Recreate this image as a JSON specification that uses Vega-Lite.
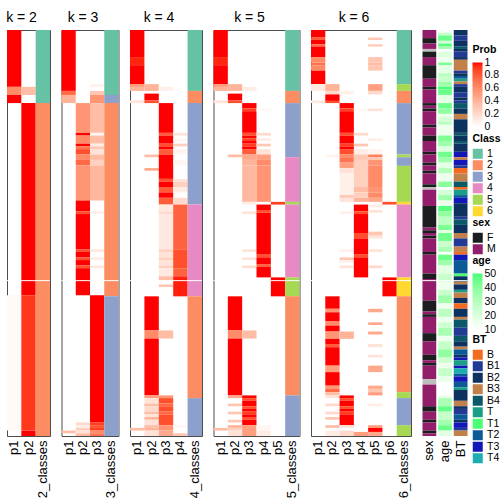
{
"$schema": "https://vega.github.io/schema/vega-lite/v6.json",
"padding": {"left": 5, "top": 10, "right": 0, "bottom": 0},
"background": "white",
"bounds": "flush",
"config": {
 "font": "Liberation Sans",
 "view": {"stroke": "#4d4d4d", "strokeWidth": 1},
 "axis": {"domain": false, "ticks": false, "grid": false, "labelFontSize": 13, "labelColor": "black", "labelAngle": -90, "labelPadding": 4, "labelOverlap": false, "labelBound": false, "title": null},
 "concat": {"spacing": 11.5},
 "title": {"fontSize": 14, "fontWeight": "normal", "color": "black", "anchor": "middle", "frame": "group", "offset": 5},
 "legend": {"titleFontSize": 10.5, "titleFontWeight": "bold", "labelFontSize": 10.5, "titleColor": "black", "labelColor": "black", "symbolType": "square", "symbolSize": 100, "symbolStrokeWidth": 0, "gradientThickness": 10, "gradientStrokeWidth": 0, "titlePadding": 4, "padding": 0, "rowPadding": 0.5, "labelOffset": 4, "labelOverlap": false}
},
"datasets": {
 "h": [
  {"k":2,"c":"p1","a":0,"b":21,"p":1},{"k":2,"c":"p1","a":21,"b":24,"p":0.6},{"k":2,"c":"p1","a":24,"b":27,"p":1},{"k":2,"c":"p1","a":98,"b":148,"p":0.03},
  {"k":2,"c":"p2","a":21,"b":24,"p":0.35},{"k":2,"c":"p2","a":27,"b":98,"p":1},{"k":2,"c":"p2","a":98,"b":148,"p":0.92},{"k":2,"c":"p2","a":148,"b":150,"p":1},

  {"k":3,"c":"p1","a":0,"b":22.5,"p":1},{"k":3,"c":"p1","a":22.5,"b":24,"p":0.75},{"k":3,"c":"p1","a":24,"b":27,"p":0.4},{"k":3,"c":"p1","a":148,"b":149,"p":0.35},
  {"k":3,"c":"p2","a":27,"b":38,"p":0.55},{"k":3,"c":"p2","a":38,"b":39,"p":1},{"k":3,"c":"p2","a":39,"b":42,"p":0.6},{"k":3,"c":"p2","a":42,"b":43,"p":1},{"k":3,"c":"p2","a":43,"b":44,"p":0.7},{"k":3,"c":"p2","a":44,"b":46,"p":0.85},{"k":3,"c":"p2","a":46,"b":48,"p":0.6},{"k":3,"c":"p2","a":48,"b":50,"p":0.75},{"k":3,"c":"p2","a":50,"b":63,"p":0.55},{"k":3,"c":"p2","a":63,"b":67,"p":1},{"k":3,"c":"p2","a":67,"b":68,"p":0.85},{"k":3,"c":"p2","a":68,"b":81,"p":1},{"k":3,"c":"p2","a":81,"b":82,"p":0.85},{"k":3,"c":"p2","a":82,"b":84,"p":1},{"k":3,"c":"p2","a":84,"b":85,"p":0.85},{"k":3,"c":"p2","a":85,"b":87,"p":1},{"k":3,"c":"p2","a":87,"b":88,"p":0.85},{"k":3,"c":"p2","a":88,"b":98,"p":1},{"k":3,"c":"p2","a":145,"b":146,"p":0.2},{"k":3,"c":"p2","a":146,"b":147,"p":0.1},{"k":3,"c":"p2","a":147,"b":148,"p":0.25},{"k":3,"c":"p2","a":148,"b":149,"p":0.15},{"k":3,"c":"p2","a":149,"b":150,"p":0.35},
  {"k":3,"c":"p3","a":20,"b":21,"p":0.08},{"k":3,"c":"p3","a":22.5,"b":24,"p":0.3},{"k":3,"c":"p3","a":24,"b":27,"p":0.55},{"k":3,"c":"p3","a":27,"b":38,"p":0.35},{"k":3,"c":"p3","a":38,"b":39,"p":0.05},{"k":3,"c":"p3","a":39,"b":42,"p":0.35},{"k":3,"c":"p3","a":42,"b":43,"p":0.1},{"k":3,"c":"p3","a":43,"b":44,"p":0.3},{"k":3,"c":"p3","a":44,"b":46,"p":0.15},{"k":3,"c":"p3","a":46,"b":48,"p":0.35},{"k":3,"c":"p3","a":48,"b":50,"p":0.25},{"k":3,"c":"p3","a":50,"b":63,"p":0.38},{"k":3,"c":"p3","a":67,"b":68,"p":0.08},{"k":3,"c":"p3","a":81,"b":82,"p":0.12},{"k":3,"c":"p3","a":84,"b":85,"p":0.1},{"k":3,"c":"p3","a":87,"b":88,"p":0.12},{"k":3,"c":"p3","a":98,"b":145,"p":1},{"k":3,"c":"p3","a":145,"b":146,"p":0.9},{"k":3,"c":"p3","a":146,"b":147,"p":0.85},{"k":3,"c":"p3","a":147,"b":148,"p":0.9},{"k":3,"c":"p3","a":148,"b":149,"p":0.6},{"k":3,"c":"p3","a":149,"b":150,"p":0.7},

  {"k":4,"c":"p1","a":0,"b":10,"p":1},{"k":4,"c":"p1","a":10,"b":13,"p":0.96},{"k":4,"c":"p1","a":13,"b":20,"p":1},{"k":4,"c":"p1","a":20,"b":21,"p":0.55},{"k":4,"c":"p1","a":21,"b":22.5,"p":0.4},{"k":4,"c":"p1","a":26,"b":27,"p":0.15},{"k":4,"c":"p1","a":147,"b":148,"p":0.35},
  {"k":4,"c":"p2","a":20,"b":22.5,"p":0.4},{"k":4,"c":"p2","a":23.5,"b":26,"p":1},{"k":4,"c":"p2","a":26,"b":27,"p":0.85},{"k":4,"c":"p2","a":46,"b":47,"p":0.35},{"k":4,"c":"p2","a":51,"b":52,"p":0.45},{"k":4,"c":"p2","a":98.4,"b":111,"p":1},{"k":4,"c":"p2","a":111,"b":114,"p":0.6},{"k":4,"c":"p2","a":114,"b":135,"p":1},{"k":4,"c":"p2","a":135,"b":136,"p":0.5},{"k":4,"c":"p2","a":136,"b":138,"p":0.15},{"k":4,"c":"p2","a":138,"b":139,"p":0.35},{"k":4,"c":"p2","a":139,"b":141,"p":0.2},{"k":4,"c":"p2","a":141,"b":142,"p":0.35},{"k":4,"c":"p2","a":142,"b":143,"p":0.15},{"k":4,"c":"p2","a":143,"b":144,"p":0.4},{"k":4,"c":"p2","a":144,"b":146,"p":0.15},{"k":4,"c":"p2","a":146,"b":147,"p":0.35},{"k":4,"c":"p2","a":147,"b":148,"p":0.4},{"k":4,"c":"p2","a":148,"b":150,"p":0.15},
  {"k":4,"c":"p3","a":21,"b":22.5,"p":0.08},{"k":4,"c":"p3","a":27,"b":38,"p":1},{"k":4,"c":"p3","a":38,"b":39,"p":0.8},{"k":4,"c":"p3","a":39,"b":42,"p":1},{"k":4,"c":"p3","a":42,"b":43,"p":0.85},{"k":4,"c":"p3","a":43,"b":44,"p":1},{"k":4,"c":"p3","a":44,"b":46,"p":0.8},{"k":4,"c":"p3","a":46,"b":55,"p":1},{"k":4,"c":"p3","a":55,"b":56,"p":0.85},{"k":4,"c":"p3","a":56,"b":58,"p":1},{"k":4,"c":"p3","a":58,"b":60,"p":0.8},{"k":4,"c":"p3","a":60,"b":62,"p":1},{"k":4,"c":"p3","a":62,"b":64.5,"p":0.8},{"k":4,"c":"p3","a":64.5,"b":67,"p":0.12},{"k":4,"c":"p3","a":67,"b":68,"p":0.2},{"k":4,"c":"p3","a":68,"b":81,"p":0.12},{"k":4,"c":"p3","a":81,"b":82,"p":0.25},{"k":4,"c":"p3","a":82,"b":84,"p":0.15},{"k":4,"c":"p3","a":84,"b":85,"p":0.25},{"k":4,"c":"p3","a":85,"b":87,"p":0.15},{"k":4,"c":"p3","a":87,"b":88,"p":0.25},{"k":4,"c":"p3","a":88,"b":91,"p":0.12},{"k":4,"c":"p3","a":91,"b":92.5,"p":0.35},{"k":4,"c":"p3","a":94,"b":95,"p":0.3},{"k":4,"c":"p3","a":111,"b":114,"p":0.35},{"k":4,"c":"p3","a":135,"b":136,"p":0.55},{"k":4,"c":"p3","a":136,"b":138,"p":0.85},{"k":4,"c":"p3","a":138,"b":139,"p":0.75},{"k":4,"c":"p3","a":139,"b":141,"p":0.85},{"k":4,"c":"p3","a":141,"b":142,"p":0.75},{"k":4,"c":"p3","a":142,"b":146,"p":0.85},{"k":4,"c":"p3","a":146,"b":148,"p":0.55},{"k":4,"c":"p3","a":148,"b":150,"p":0.45},
  {"k":4,"c":"p4","a":38,"b":39,"p":0.15},{"k":4,"c":"p4","a":40,"b":41,"p":0.05},{"k":4,"c":"p4","a":42,"b":43,"p":0.25},{"k":4,"c":"p4","a":44,"b":46,"p":0.06},{"k":4,"c":"p4","a":48,"b":50,"p":0.05},{"k":4,"c":"p4","a":55,"b":56,"p":0.15},{"k":4,"c":"p4","a":56,"b":58,"p":0.25},{"k":4,"c":"p4","a":58,"b":60,"p":0.1},{"k":4,"c":"p4","a":62,"b":64.5,"p":0.2},{"k":4,"c":"p4","a":64.5,"b":81,"p":0.78},{"k":4,"c":"p4","a":81,"b":88,"p":0.85},{"k":4,"c":"p4","a":88,"b":91,"p":0.78},{"k":4,"c":"p4","a":91,"b":98.4,"p":0.97},{"k":4,"c":"p4","a":146,"b":147,"p":0.05},{"k":4,"c":"p4","a":149,"b":150,"p":0.3},

  {"k":5,"c":"p1","a":0,"b":10,"p":1},{"k":5,"c":"p1","a":10,"b":13,"p":0.96},{"k":5,"c":"p1","a":13,"b":20,"p":1},{"k":5,"c":"p1","a":20,"b":21,"p":0.55},{"k":5,"c":"p1","a":21,"b":22.5,"p":0.4},{"k":5,"c":"p1","a":26,"b":27,"p":0.15},{"k":5,"c":"p1","a":147,"b":148,"p":0.35},
  {"k":5,"c":"p2","a":20,"b":22.5,"p":0.4},{"k":5,"c":"p2","a":23.5,"b":26,"p":1},{"k":5,"c":"p2","a":26,"b":27,"p":0.85},{"k":5,"c":"p2","a":46,"b":47,"p":0.35},{"k":5,"c":"p2","a":98.4,"b":111,"p":1},{"k":5,"c":"p2","a":111,"b":114,"p":0.6},{"k":5,"c":"p2","a":114,"b":135,"p":1},{"k":5,"c":"p2","a":135,"b":136,"p":0.45},{"k":5,"c":"p2","a":138,"b":139,"p":0.3},{"k":5,"c":"p2","a":141,"b":142,"p":0.3},{"k":5,"c":"p2","a":144,"b":145,"p":0.3},{"k":5,"c":"p2","a":146,"b":147,"p":0.4},{"k":5,"c":"p2","a":147,"b":148,"p":0.25},{"k":5,"c":"p2","a":148,"b":150,"p":0.15},
  {"k":5,"c":"p3","a":21,"b":22.5,"p":0.1},{"k":5,"c":"p3","a":27,"b":29,"p":1},{"k":5,"c":"p3","a":29,"b":30,"p":0.9},{"k":5,"c":"p3","a":30,"b":38,"p":1},{"k":5,"c":"p3","a":38,"b":39,"p":0.85},{"k":5,"c":"p3","a":39,"b":40,"p":1},{"k":5,"c":"p3","a":40,"b":41,"p":0.9},{"k":5,"c":"p3","a":41,"b":42,"p":1},{"k":5,"c":"p3","a":42,"b":43,"p":0.9},{"k":5,"c":"p3","a":43,"b":44,"p":1},{"k":5,"c":"p3","a":44,"b":46,"p":0.8},{"k":5,"c":"p3","a":46,"b":48,"p":0.45},{"k":5,"c":"p3","a":48,"b":50,"p":0.4},{"k":5,"c":"p3","a":50,"b":63.5,"p":0.37},{"k":5,"c":"p3","a":63.5,"b":64.5,"p":0.1},{"k":5,"c":"p3","a":67,"b":68,"p":0.15},{"k":5,"c":"p3","a":81,"b":82,"p":0.15},{"k":5,"c":"p3","a":84,"b":85,"p":0.15},{"k":5,"c":"p3","a":87,"b":88,"p":0.18},{"k":5,"c":"p3","a":111,"b":114,"p":0.35},{"k":5,"c":"p3","a":135,"b":136,"p":1},{"k":5,"c":"p3","a":136,"b":137,"p":0.85},{"k":5,"c":"p3","a":137,"b":139,"p":1},{"k":5,"c":"p3","a":139,"b":140,"p":0.85},{"k":5,"c":"p3","a":140,"b":141,"p":1},{"k":5,"c":"p3","a":141,"b":142,"p":0.9},{"k":5,"c":"p3","a":142,"b":143,"p":1},{"k":5,"c":"p3","a":143,"b":144,"p":0.85},{"k":5,"c":"p3","a":144,"b":146,"p":1},{"k":5,"c":"p3","a":146,"b":150,"p":0.5},
  {"k":5,"c":"p4","a":29,"b":30,"p":0.04},{"k":5,"c":"p4","a":38,"b":39,"p":0.2},{"k":5,"c":"p4","a":40,"b":41,"p":0.1},{"k":5,"c":"p4","a":42,"b":43,"p":0.3},{"k":5,"c":"p4","a":44,"b":46,"p":0.15},{"k":5,"c":"p4","a":46,"b":48,"p":0.5},{"k":5,"c":"p4","a":48,"b":50,"p":0.6},{"k":5,"c":"p4","a":50,"b":63.5,"p":0.55},{"k":5,"c":"p4","a":64.5,"b":66.5,"p":1},{"k":5,"c":"p4","a":66.5,"b":67.5,"p":0.85},{"k":5,"c":"p4","a":67.5,"b":83,"p":1},{"k":5,"c":"p4","a":83,"b":84,"p":0.85},{"k":5,"c":"p4","a":84,"b":86.5,"p":1},{"k":5,"c":"p4","a":86.5,"b":87.5,"p":0.8},{"k":5,"c":"p4","a":87.5,"b":91.4,"p":1},{"k":5,"c":"p4","a":146,"b":148,"p":0.05},{"k":5,"c":"p4","a":148,"b":150,"p":0.1},
  {"k":5,"c":"p5","a":63.5,"b":64.5,"p":0.9},{"k":5,"c":"p5","a":91.4,"b":98.4,"p":1},

  {"k":6,"c":"p1","a":0,"b":2.8,"p":1},{"k":6,"c":"p1","a":2.8,"b":3.7,"p":0.8},{"k":6,"c":"p1","a":3.7,"b":5.3,"p":1},{"k":6,"c":"p1","a":5.3,"b":6.1,"p":0.75},{"k":6,"c":"p1","a":6.1,"b":10,"p":1},{"k":6,"c":"p1","a":10,"b":12,"p":0.6},{"k":6,"c":"p1","a":12,"b":13,"p":0.7},{"k":6,"c":"p1","a":13,"b":15,"p":0.6},{"k":6,"c":"p1","a":15,"b":20,"p":1},{"k":6,"c":"p1","a":20,"b":22.5,"p":0.12},{"k":6,"c":"p1","a":26,"b":27,"p":0.12},
  {"k":6,"c":"p2","a":20,"b":22.5,"p":0.4},{"k":6,"c":"p2","a":22.5,"b":23.8,"p":0.2},{"k":6,"c":"p2","a":23.8,"b":26.2,"p":1},{"k":6,"c":"p2","a":26.2,"b":27,"p":0.85},{"k":6,"c":"p2","a":46,"b":47,"p":0.06},{"k":6,"c":"p2","a":98.4,"b":103,"p":1},{"k":6,"c":"p2","a":103,"b":104.3,"p":0.55},{"k":6,"c":"p2","a":104.3,"b":107.7,"p":1},{"k":6,"c":"p2","a":107.7,"b":109.2,"p":0.6},{"k":6,"c":"p2","a":109.2,"b":111.4,"p":1},{"k":6,"c":"p2","a":111.4,"b":114.1,"p":0.55},{"k":6,"c":"p2","a":114.1,"b":116,"p":1},{"k":6,"c":"p2","a":116,"b":117.2,"p":0.8},{"k":6,"c":"p2","a":117.2,"b":124,"p":1},{"k":6,"c":"p2","a":124,"b":126.4,"p":0.5},{"k":6,"c":"p2","a":126.4,"b":131.4,"p":1},{"k":6,"c":"p2","a":131.4,"b":132.6,"p":0.55},{"k":6,"c":"p2","a":132.6,"b":133.8,"p":0.75},{"k":6,"c":"p2","a":133.8,"b":135,"p":0.35},{"k":6,"c":"p2","a":135,"b":136,"p":0.15},{"k":6,"c":"p2","a":138,"b":139,"p":0.2},{"k":6,"c":"p2","a":141,"b":142,"p":0.2},{"k":6,"c":"p2","a":143,"b":144,"p":0.3},{"k":6,"c":"p2","a":146,"b":147,"p":0.35},{"k":6,"c":"p2","a":148,"b":150,"p":0.1},
  {"k":6,"c":"p3","a":22.5,"b":23.8,"p":0.08},{"k":6,"c":"p3","a":27,"b":29,"p":1},{"k":6,"c":"p3","a":29,"b":30,"p":0.9},{"k":6,"c":"p3","a":30,"b":38,"p":1},{"k":6,"c":"p3","a":38,"b":39,"p":0.85},{"k":6,"c":"p3","a":39,"b":42,"p":1},{"k":6,"c":"p3","a":42,"b":43,"p":0.9},{"k":6,"c":"p3","a":43,"b":44,"p":1},{"k":6,"c":"p3","a":44,"b":46,"p":0.85},{"k":6,"c":"p3","a":46,"b":47,"p":0.6},{"k":6,"c":"p3","a":47,"b":49,"p":0.7},{"k":6,"c":"p3","a":49,"b":51,"p":0.5},{"k":6,"c":"p3","a":51,"b":53,"p":0.15},{"k":6,"c":"p3","a":53,"b":61,"p":0.08},{"k":6,"c":"p3","a":61,"b":62,"p":0.3},{"k":6,"c":"p3","a":62,"b":63.5,"p":0.15},{"k":6,"c":"p3","a":67,"b":68,"p":0.08},{"k":6,"c":"p3","a":81,"b":82,"p":0.08},{"k":6,"c":"p3","a":84,"b":85,"p":0.3},{"k":6,"c":"p3","a":85,"b":86,"p":0.08},{"k":6,"c":"p3","a":87,"b":88,"p":0.15},{"k":6,"c":"p3","a":111.4,"b":114.1,"p":0.4},{"k":6,"c":"p3","a":135,"b":136,"p":1},{"k":6,"c":"p3","a":136,"b":137,"p":0.85},{"k":6,"c":"p3","a":137,"b":139,"p":1},{"k":6,"c":"p3","a":139,"b":140,"p":0.85},{"k":6,"c":"p3","a":140,"b":141,"p":1},{"k":6,"c":"p3","a":141,"b":142,"p":0.9},{"k":6,"c":"p3","a":142,"b":146,"p":1},{"k":6,"c":"p3","a":146,"b":147,"p":0.15},{"k":6,"c":"p3","a":148,"b":150,"p":0.2},
  {"k":6,"c":"p4","a":29,"b":30,"p":0.04},{"k":6,"c":"p4","a":38,"b":39,"p":0.2},{"k":6,"c":"p4","a":42,"b":43,"p":0.3},{"k":6,"c":"p4","a":44,"b":46,"p":0.1},{"k":6,"c":"p4","a":46,"b":48,"p":0.3},{"k":6,"c":"p4","a":48,"b":58,"p":0.25},{"k":6,"c":"p4","a":58,"b":60,"p":0.35},{"k":6,"c":"p4","a":60,"b":62,"p":0.25},{"k":6,"c":"p4","a":62,"b":63.5,"p":0.4},{"k":6,"c":"p4","a":64.5,"b":67,"p":1},{"k":6,"c":"p4","a":67,"b":68,"p":0.85},{"k":6,"c":"p4","a":68,"b":75,"p":1},{"k":6,"c":"p4","a":75,"b":77,"p":0.85},{"k":6,"c":"p4","a":77,"b":83,"p":1},{"k":6,"c":"p4","a":83,"b":84,"p":0.85},{"k":6,"c":"p4","a":84,"b":91.4,"p":1},{"k":6,"c":"p4","a":148.5,"b":150,"p":0.5},
  {"k":6,"c":"p5","a":2.8,"b":3.7,"p":0.3},{"k":6,"c":"p5","a":5.3,"b":6.1,"p":0.3},{"k":6,"c":"p5","a":10,"b":12,"p":0.3},{"k":6,"c":"p5","a":12,"b":13,"p":0.35},{"k":6,"c":"p5","a":13,"b":15,"p":0.3},{"k":6,"c":"p5","a":20,"b":22.5,"p":0.5},{"k":6,"c":"p5","a":22.5,"b":23.8,"p":0.2},{"k":6,"c":"p5","a":29,"b":30,"p":0.15},{"k":6,"c":"p5","a":40,"b":41,"p":0.1},{"k":6,"c":"p5","a":44,"b":46,"p":0.06},{"k":6,"c":"p5","a":46,"b":47,"p":0.65},{"k":6,"c":"p5","a":47,"b":48,"p":0.3},{"k":6,"c":"p5","a":48,"b":50,"p":0.55},{"k":6,"c":"p5","a":50,"b":58,"p":0.6},{"k":6,"c":"p5","a":58,"b":60,"p":0.55},{"k":6,"c":"p5","a":60,"b":62,"p":0.6},{"k":6,"c":"p5","a":62,"b":63.5,"p":0.45},{"k":6,"c":"p5","a":64.5,"b":65.5,"p":0.1},{"k":6,"c":"p5","a":66.5,"b":67.5,"p":0.15},{"k":6,"c":"p5","a":74.5,"b":76,"p":0.3},{"k":6,"c":"p5","a":76,"b":77,"p":0.15},{"k":6,"c":"p5","a":81,"b":82,"p":0.15},{"k":6,"c":"p5","a":87,"b":88,"p":0.2},{"k":6,"c":"p5","a":103,"b":104.3,"p":0.45},{"k":6,"c":"p5","a":108,"b":109,"p":0.45},{"k":6,"c":"p5","a":111.4,"b":112.5,"p":0.45},{"k":6,"c":"p5","a":116,"b":117.2,"p":0.15},{"k":6,"c":"p5","a":120,"b":121,"p":0.15},{"k":6,"c":"p5","a":124,"b":126.4,"p":0.45},{"k":6,"c":"p5","a":131.4,"b":132.6,"p":0.45},{"k":6,"c":"p5","a":132.6,"b":133.8,"p":0.3},{"k":6,"c":"p5","a":133.8,"b":135,"p":0.5},{"k":6,"c":"p5","a":138,"b":139,"p":0.1},{"k":6,"c":"p5","a":146,"b":147,"p":0.5},{"k":6,"c":"p5","a":147,"b":148.5,"p":1},{"k":6,"c":"p5","a":148.5,"b":150,"p":0.45},
  {"k":6,"c":"p6","a":63.5,"b":64.5,"p":0.85},{"k":6,"c":"p6","a":91.4,"b":98.4,"p":1}
 ],
 "cl": [
  {"k":2,"c":"2_classes","a":0,"b":27,"v":1},{"k":2,"c":"2_classes","a":27,"b":150,"v":2},
  {"k":3,"c":"3_classes","a":0,"b":24,"v":1},{"k":3,"c":"3_classes","a":24,"b":27,"v":3},{"k":3,"c":"3_classes","a":27,"b":98.4,"v":2},{"k":3,"c":"3_classes","a":98.4,"b":150,"v":3},
  {"k":4,"c":"4_classes","a":0,"b":22.5,"v":1},{"k":4,"c":"4_classes","a":22.5,"b":27,"v":2},{"k":4,"c":"4_classes","a":27,"b":64.5,"v":3},{"k":4,"c":"4_classes","a":64.5,"b":98.4,"v":4},{"k":4,"c":"4_classes","a":98.4,"b":136,"v":2},{"k":4,"c":"4_classes","a":136,"b":150,"v":3},
  {"k":5,"c":"5_classes","a":0,"b":22.5,"v":1},{"k":5,"c":"5_classes","a":22.5,"b":27,"v":2},{"k":5,"c":"5_classes","a":27,"b":47,"v":3},{"k":5,"c":"5_classes","a":47,"b":63.5,"v":4},{"k":5,"c":"5_classes","a":63.5,"b":64.5,"v":5},{"k":5,"c":"5_classes","a":64.5,"b":91.4,"v":4},{"k":5,"c":"5_classes","a":91.4,"b":98.4,"v":5},{"k":5,"c":"5_classes","a":98.4,"b":135,"v":2},{"k":5,"c":"5_classes","a":135,"b":150,"v":3},
  {"k":6,"c":"6_classes","a":0,"b":20,"v":1},{"k":6,"c":"6_classes","a":20,"b":22.5,"v":5},{"k":6,"c":"6_classes","a":22.5,"b":27,"v":2},{"k":6,"c":"6_classes","a":27,"b":46,"v":3},{"k":6,"c":"6_classes","a":46,"b":47,"v":5},{"k":6,"c":"6_classes","a":47,"b":50.2,"v":3},{"k":6,"c":"6_classes","a":50.2,"b":63.5,"v":5},{"k":6,"c":"6_classes","a":63.5,"b":64.5,"v":6},{"k":6,"c":"6_classes","a":64.5,"b":91.4,"v":4},{"k":6,"c":"6_classes","a":91.4,"b":98.4,"v":6},{"k":6,"c":"6_classes","a":98.4,"b":133.8,"v":2},{"k":6,"c":"6_classes","a":133.8,"b":136,"v":5},{"k":6,"c":"6_classes","a":136,"b":146,"v":3},{"k":6,"c":"6_classes","a":146,"b":150,"v":5}
 ],
 "gap": [{"y": 92.6}],
 "sex": [
  {"a":0,"b":3,"v":"M"},{"a":3,"b":5,"v":"F"},{"a":5,"b":7,"v":"M"},{"a":7,"b":8,"v":"NA"},{"a":8,"b":10,"v":"F"},{"a":10,"b":13,"v":"M"},{"a":13,"b":18,"v":"F"},{"a":18,"b":21,"v":"M"},{"a":21,"b":22,"v":"F"},{"a":22,"b":27,"v":"M"},{"a":27,"b":28,"v":"F"},{"a":28,"b":29,"v":"M"},{"a":29,"b":30,"v":"F"},{"a":30,"b":35,"v":"M"},{"a":35,"b":36,"v":"F"},{"a":36,"b":39,"v":"M"},{"a":39,"b":41,"v":"F"},{"a":41,"b":45,"v":"M"},{"a":45,"b":46,"v":"F"},{"a":46,"b":49,"v":"M"},{"a":49,"b":50,"v":"F"},{"a":50,"b":52,"v":"M"},{"a":52,"b":53,"v":"F"},{"a":53,"b":57,"v":"M"},{"a":57,"b":58,"v":"F"},{"a":58,"b":59,"v":"NA"},{"a":59,"b":65,"v":"M"},{"a":65,"b":73,"v":"F"},{"a":73,"b":74,"v":"M"},{"a":74,"b":75,"v":"F"},{"a":75,"b":76,"v":"M"},{"a":76,"b":77,"v":"F"},{"a":77,"b":82,"v":"M"},{"a":82,"b":83,"v":"F"},{"a":83,"b":90,"v":"M"},{"a":90,"b":92,"v":"F"},{"a":92,"b":100,"v":"M"},{"a":100,"b":104,"v":"F"},{"a":104,"b":105,"v":"M"},{"a":105,"b":106,"v":"F"},{"a":106,"b":112,"v":"M"},{"a":112,"b":115,"v":"F"},{"a":115,"b":120,"v":"M"},{"a":120,"b":122,"v":"F"},{"a":122,"b":123,"v":"M"},{"a":123,"b":124,"v":"F"},{"a":124,"b":129,"v":"M"},{"a":129,"b":131,"v":"NA"},{"a":131,"b":139,"v":"M"},{"a":139,"b":141,"v":"F"},{"a":141,"b":144,"v":"M"},{"a":144,"b":145,"v":"F"},{"a":145,"b":148,"v":"M"},{"a":148,"b":149,"v":"F"},{"a":149,"b":150,"v":"M"}
 ],
 "age": [
  {"a":0,"b":1,"v":12},{"a":1,"b":2,"v":25},{"a":2,"b":4,"v":45},{"a":4,"b":5,"v":22},{"a":5,"b":6,"v":48},{"a":6,"b":7,"v":35},{"a":7,"b":8,"v":null},{"a":8,"b":10,"v":20},{"a":10,"b":12,"v":15},{"a":12,"b":13,"v":42},{"a":13,"b":16,"v":18},{"a":16,"b":17,"v":30},{"a":17,"b":19,"v":25},{"a":19,"b":21,"v":35},{"a":21,"b":22,"v":50},{"a":22,"b":24,"v":45},{"a":24,"b":27,"v":18},{"a":27,"b":29,"v":45},{"a":29,"b":31,"v":38},{"a":31,"b":32,"v":15},{"a":32,"b":34,"v":22},{"a":34,"b":35,"v":30},{"a":35,"b":39,"v":15},{"a":39,"b":41,"v":42},{"a":41,"b":43,"v":35},{"a":43,"b":45,"v":20},{"a":45,"b":47,"v":44},{"a":47,"b":49,"v":35},{"a":49,"b":51,"v":18},{"a":51,"b":53,"v":30},{"a":53,"b":56,"v":15},{"a":56,"b":58,"v":40},{"a":58,"b":59,"v":null},{"a":59,"b":61,"v":22},{"a":61,"b":63,"v":35},{"a":63,"b":65,"v":15},{"a":65,"b":67,"v":48},{"a":67,"b":69,"v":38},{"a":69,"b":72,"v":28},{"a":72,"b":74,"v":42},{"a":74,"b":75,"v":18},{"a":75,"b":78,"v":44},{"a":78,"b":80,"v":25},{"a":80,"b":82,"v":32},{"a":82,"b":83,"v":null},{"a":83,"b":85,"v":45},{"a":85,"b":87,"v":35},{"a":87,"b":90,"v":18},{"a":90,"b":93,"v":25},{"a":93,"b":96,"v":15},{"a":96,"b":98,"v":25},{"a":98,"b":101,"v":35},{"a":101,"b":103,"v":15},{"a":103,"b":106,"v":28},{"a":106,"b":108,"v":15},{"a":108,"b":110,"v":24},{"a":110,"b":113,"v":33},{"a":113,"b":115,"v":15},{"a":115,"b":118,"v":26},{"a":118,"b":121,"v":38},{"a":121,"b":123,"v":24},{"a":123,"b":125,"v":15},{"a":125,"b":128,"v":26},{"a":128,"b":130,"v":16},{"a":130,"b":133,"v":null},{"a":133,"b":135,"v":10},{"a":135,"b":136,"v":17},{"a":136,"b":139,"v":32},{"a":139,"b":141,"v":46},{"a":141,"b":144,"v":26},{"a":144,"b":146,"v":34},{"a":146,"b":148,"v":45},{"a":148,"b":150,"v":18}
 ],
 "bt": [
  {"a":0,"b":2,"v":"B2"},{"a":2,"b":4,"v":"B1"},{"a":4,"b":6,"v":"B2"},{"a":6,"b":7,"v":"B4"},{"a":7,"b":8,"v":"B2"},{"a":8,"b":10,"v":"B1"},{"a":10,"b":11,"v":"B2"},{"a":11,"b":15,"v":"B3"},{"a":15,"b":16,"v":"B1"},{"a":16,"b":17,"v":"B2"},{"a":17,"b":18,"v":"T2"},{"a":18,"b":19,"v":"T"},{"a":19,"b":20,"v":"B3"},{"a":20,"b":21,"v":"B1"},{"a":21,"b":23,"v":"B2"},{"a":23,"b":25,"v":"B1"},{"a":25,"b":26,"v":"B2"},{"a":26,"b":27,"v":"B1"},{"a":27,"b":29,"v":"B4"},{"a":29,"b":31,"v":"B2"},{"a":31,"b":33,"v":"B3"},{"a":33,"b":38,"v":"B2"},{"a":38,"b":39,"v":"B4"},{"a":39,"b":41,"v":"B2"},{"a":41,"b":42,"v":"B4"},{"a":42,"b":45,"v":"B2"},{"a":45,"b":47,"v":"T3"},{"a":47,"b":48,"v":"B3"},{"a":48,"b":50,"v":"T3"},{"a":50,"b":51,"v":"B1"},{"a":51,"b":53,"v":"B"},{"a":53,"b":56,"v":"B3"},{"a":56,"b":58,"v":"B4"},{"a":58,"b":59,"v":"B"},{"a":59,"b":61,"v":"T"},{"a":61,"b":62,"v":"T2"},{"a":62,"b":64,"v":"T3"},{"a":64,"b":69,"v":"B2"},{"a":69,"b":70,"v":"B1"},{"a":70,"b":72,"v":"B4"},{"a":72,"b":75,"v":"B2"},{"a":75,"b":77,"v":"B3"},{"a":77,"b":80,"v":"B1"},{"a":80,"b":82,"v":"B3"},{"a":82,"b":83,"v":"B"},{"a":83,"b":85,"v":"T3"},{"a":85,"b":90,"v":"T2"},{"a":90,"b":91,"v":"T1"},{"a":91,"b":93,"v":"B2"},{"a":93,"b":94,"v":"B3"},{"a":94,"b":96,"v":"B2"},{"a":96,"b":97,"v":"T"},{"a":97,"b":99,"v":"B3"},{"a":99,"b":101,"v":"B2"},{"a":101,"b":103,"v":"B"},{"a":103,"b":106,"v":"B2"},{"a":106,"b":107,"v":"B3"},{"a":107,"b":110,"v":"B4"},{"a":110,"b":113,"v":"B1"},{"a":113,"b":115,"v":"B4"},{"a":115,"b":117,"v":"B2"},{"a":117,"b":118,"v":"B3"},{"a":118,"b":120,"v":"T2"},{"a":120,"b":121,"v":"B2"},{"a":121,"b":122,"v":"T3"},{"a":122,"b":124,"v":"T"},{"a":124,"b":125,"v":"T3"},{"a":125,"b":127,"v":"T4"},{"a":127,"b":128,"v":"T2"},{"a":128,"b":130,"v":"T3"},{"a":130,"b":132,"v":"T2"},{"a":132,"b":133,"v":"T"},{"a":133,"b":137,"v":"B2"},{"a":137,"b":139,"v":"B3"},{"a":139,"b":140,"v":"B2"},{"a":140,"b":142,"v":"B1"},{"a":142,"b":144,"v":"T2"},{"a":144,"b":145,"v":"B2"},{"a":145,"b":147,"v":"T3"},{"a":147,"b":148,"v":"B1"},{"a":148,"b":150,"v":"B3"}
 ]
},
"hconcat": [
 {"width": 43, "height": 406, "title": {"text": "k = 2", "dx": -7},
  "layer": [
   {"data": {"name": "h"}, "transform": [{"filter": "datum.k == 2"}], "mark": "rect",
    "encoding": {"x": {"field": "c", "type": "nominal", "sort": null, "scale": {"domain": ["p1","p2","2_classes"], "paddingInner": 0, "paddingOuter": 0}},
     "y": {"field": "a", "type": "quantitative", "scale": {"domain": [0,150], "reverse": true, "nice": false, "zero": false}, "axis": null}, "y2": {"field": "b"},
     "color": {"field": "p", "type": "quantitative", "scale": {"domain": [0,1], "range": ["#ffffff","#ff0000"], "interpolate": "lab"}, "legend": null}}},
   {"data": {"name": "cl"}, "transform": [{"filter": "datum.k == 2"}], "mark": "rect",
    "encoding": {"x": {"field": "c", "type": "nominal"}, "y": {"field": "a", "type": "quantitative"}, "y2": {"field": "b"},
     "color": {"field": "v", "type": "nominal", "scale": {"domain": [1,2,3,4,5,6], "range": ["#66C2A5","#FC8D62","#8DA0CB","#E78AC3","#A6D854","#FFD92F"]}, "legend": null}}},
   {"data": {"name": "gap"}, "mark": {"type": "rule", "color": "white", "strokeWidth": 1}, "encoding": {"y": {"field": "y", "type": "quantitative"}}}
  ], "resolve": {"scale": {"color": "independent"}}},
 {"width": 57, "height": 406, "title": {"text": "k = 3", "dx": -7},
  "layer": [
   {"data": {"name": "h"}, "transform": [{"filter": "datum.k == 3"}], "mark": "rect",
    "encoding": {"x": {"field": "c", "type": "nominal", "sort": null, "scale": {"domain": ["p1","p2","p3","3_classes"], "paddingInner": 0, "paddingOuter": 0}},
     "y": {"field": "a", "type": "quantitative", "scale": {"domain": [0,150], "reverse": true, "nice": false, "zero": false}, "axis": null}, "y2": {"field": "b"},
     "color": {"field": "p", "type": "quantitative", "scale": {"domain": [0,1], "range": ["#ffffff","#ff0000"], "interpolate": "lab"}, "legend": null}}},
   {"data": {"name": "cl"}, "transform": [{"filter": "datum.k == 3"}], "mark": "rect",
    "encoding": {"x": {"field": "c", "type": "nominal"}, "y": {"field": "a", "type": "quantitative"}, "y2": {"field": "b"},
     "color": {"field": "v", "type": "nominal", "scale": {"domain": [1,2,3,4,5,6], "range": ["#66C2A5","#FC8D62","#8DA0CB","#E78AC3","#A6D854","#FFD92F"]}, "legend": null}}},
   {"data": {"name": "gap"}, "mark": {"type": "rule", "color": "white", "strokeWidth": 1}, "encoding": {"y": {"field": "y", "type": "quantitative"}}}
  ], "resolve": {"scale": {"color": "independent"}}},
 {"width": 72, "height": 406, "title": {"text": "k = 4", "dx": -7},
  "layer": [
   {"data": {"name": "h"}, "transform": [{"filter": "datum.k == 4"}], "mark": "rect",
    "encoding": {"x": {"field": "c", "type": "nominal", "sort": null, "scale": {"domain": ["p1","p2","p3","p4","4_classes"], "paddingInner": 0, "paddingOuter": 0}},
     "y": {"field": "a", "type": "quantitative", "scale": {"domain": [0,150], "reverse": true, "nice": false, "zero": false}, "axis": null}, "y2": {"field": "b"},
     "color": {"field": "p", "type": "quantitative", "scale": {"domain": [0,1], "range": ["#ffffff","#ff0000"], "interpolate": "lab"}, "legend": null}}},
   {"data": {"name": "cl"}, "transform": [{"filter": "datum.k == 4"}], "mark": "rect",
    "encoding": {"x": {"field": "c", "type": "nominal"}, "y": {"field": "a", "type": "quantitative"}, "y2": {"field": "b"},
     "color": {"field": "v", "type": "nominal", "scale": {"domain": [1,2,3,4,5,6], "range": ["#66C2A5","#FC8D62","#8DA0CB","#E78AC3","#A6D854","#FFD92F"]}, "legend": null}}},
   {"data": {"name": "gap"}, "mark": {"type": "rule", "color": "white", "strokeWidth": 1}, "encoding": {"y": {"field": "y", "type": "quantitative"}}}
  ], "resolve": {"scale": {"color": "independent"}}},
 {"width": 86, "height": 406, "title": {"text": "k = 5", "dx": -7},
  "layer": [
   {"data": {"name": "h"}, "transform": [{"filter": "datum.k == 5"}], "mark": "rect",
    "encoding": {"x": {"field": "c", "type": "nominal", "sort": null, "scale": {"domain": ["p1","p2","p3","p4","p5","5_classes"], "paddingInner": 0, "paddingOuter": 0}},
     "y": {"field": "a", "type": "quantitative", "scale": {"domain": [0,150], "reverse": true, "nice": false, "zero": false}, "axis": null}, "y2": {"field": "b"},
     "color": {"field": "p", "type": "quantitative", "scale": {"domain": [0,1], "range": ["#ffffff","#ff0000"], "interpolate": "lab"}, "legend": null}}},
   {"data": {"name": "cl"}, "transform": [{"filter": "datum.k == 5"}], "mark": "rect",
    "encoding": {"x": {"field": "c", "type": "nominal"}, "y": {"field": "a", "type": "quantitative"}, "y2": {"field": "b"},
     "color": {"field": "v", "type": "nominal", "scale": {"domain": [1,2,3,4,5,6], "range": ["#66C2A5","#FC8D62","#8DA0CB","#E78AC3","#A6D854","#FFD92F"]}, "legend": null}}},
   {"data": {"name": "gap"}, "mark": {"type": "rule", "color": "white", "strokeWidth": 1}, "encoding": {"y": {"field": "y", "type": "quantitative"}}}
  ], "resolve": {"scale": {"color": "independent"}}},
 {"width": 100, "height": 406, "title": {"text": "k = 6", "dx": -7},
  "layer": [
   {"data": {"name": "h"}, "transform": [{"filter": "datum.k == 6"}], "mark": "rect",
    "encoding": {"x": {"field": "c", "type": "nominal", "sort": null, "scale": {"domain": ["p1","p2","p3","p4","p5","p6","6_classes"], "paddingInner": 0, "paddingOuter": 0}},
     "y": {"field": "a", "type": "quantitative", "scale": {"domain": [0,150], "reverse": true, "nice": false, "zero": false}, "axis": null}, "y2": {"field": "b"},
     "color": {"field": "p", "type": "quantitative", "scale": {"domain": [0,1], "range": ["#ffffff","#ff0000"], "interpolate": "lab"}, "legend": null}}},
   {"data": {"name": "cl"}, "transform": [{"filter": "datum.k == 6"}], "mark": "rect",
    "encoding": {"x": {"field": "c", "type": "nominal"}, "y": {"field": "a", "type": "quantitative"}, "y2": {"field": "b"},
     "color": {"field": "v", "type": "nominal", "scale": {"domain": [1,2,3,4,5,6], "range": ["#66C2A5","#FC8D62","#8DA0CB","#E78AC3","#A6D854","#FFD92F"]}, "legend": null}}},
   {"data": {"name": "gap"}, "mark": {"type": "rule", "color": "white", "strokeWidth": 1}, "encoding": {"y": {"field": "y", "type": "quantitative"}}}
  ], "resolve": {"scale": {"color": "independent"}}},
 {"width": 45, "height": 406, "view": {"stroke": null},
  "layer": [
   {"data": {"name": "h"}, "transform": [{"filter": "false"}], "mark": "rect",
    "encoding": {"x": {"field": "c", "type": "nominal", "sort": null, "scale": {"domain": ["sex","age","BT"], "paddingInner": 0.12, "paddingOuter": 0}},
     "y": {"field": "a", "type": "quantitative", "scale": {"domain": [0,150], "reverse": true, "nice": false, "zero": false}, "axis": null}, "y2": {"field": "b"},
     "color": {"field": "p", "type": "quantitative", "title": "Prob", "scale": {"domain": [0,1], "range": ["#ffffff","#ff0000"], "interpolate": "lab"},
      "legend": {"orient": "none", "legendX": 50, "legendY": 15, "titlePadding": 7, "gradientLength": 64, "values": [0,0.2,0.4,0.6,0.8,1], "format": "~g", "encode": {"labels": {"update": {"baseline": {"value": "middle"}}}}}}}},
   {"data": {"name": "cl"}, "transform": [{"filter": "false"}], "mark": "rect",
    "encoding": {"x": {"field": "c", "type": "nominal"}, "y": {"field": "a", "type": "quantitative"}, "y2": {"field": "b"},
     "color": {"field": "v", "type": "nominal", "title": "Class", "scale": {"domain": [1,2,3,4,5,6], "range": ["#66C2A5","#FC8D62","#8DA0CB","#E78AC3","#A6D854","#FFD92F"]},
      "legend": {"orient": "none", "legendX": 50, "legendY": 104}}}},
   {"data": {"name": "sex"}, "transform": [{"calculate": "'sex'", "as": "c"}], "mark": "rect",
    "encoding": {"x": {"field": "c", "type": "nominal"}, "y": {"field": "a", "type": "quantitative"}, "y2": {"field": "b"},
     "color": {"condition": {"test": "datum.v == 'NA'", "value": "#BEBEBE"}, "field": "v", "type": "nominal", "title": "sex", "scale": {"domain": ["F","M"], "range": ["#1B1D1F","#911D6B"]},
      "legend": {"orient": "none", "legendX": 50, "legendY": 188}}}},
   {"data": {"name": "age"}, "transform": [{"calculate": "'age'", "as": "c"}], "mark": "rect",
    "encoding": {"x": {"field": "c", "type": "nominal"}, "y": {"field": "a", "type": "quantitative"}, "y2": {"field": "b"},
     "color": {"condition": {"test": "datum.v == null", "value": "#BEBEBE"}, "field": "v", "type": "quantitative", "title": "age", "scale": {"domain": [10,50], "range": ["#ffffff","#44FF77"], "interpolate": "lab"},
      "legend": {"orient": "none", "legendX": 50, "legendY": 226, "titlePadding": 7, "gradientLength": 56, "values": [10,20,30,40,50], "encode": {"labels": {"update": {"baseline": {"value": "middle"}}}}}}}},
   {"data": {"name": "bt"}, "transform": [{"calculate": "'BT'", "as": "c"}], "mark": "rect",
    "encoding": {"x": {"field": "c", "type": "nominal"}, "y": {"field": "a", "type": "quantitative"}, "y2": {"field": "b"},
     "color": {"field": "v", "type": "nominal", "title": "BT", "scale": {"domain": ["B","B1","B2","B3","B4","T","T1","T2","T3","T4"], "range": ["#F26B21","#233A94","#0D325F","#C2804A","#0B5868","#1B9E87","#4AFF70","#0B5A96","#1217B7","#1BADB0"]},
      "legend": {"orient": "none", "legendX": 50, "legendY": 305}}}},
   {"data": {"name": "gap"}, "mark": {"type": "rule", "color": "white", "strokeWidth": 1}, "encoding": {"y": {"field": "y", "type": "quantitative"}}}
  ], "resolve": {"scale": {"color": "independent"}}}
],
"resolve": {"scale": {"color": "independent"}}
}
